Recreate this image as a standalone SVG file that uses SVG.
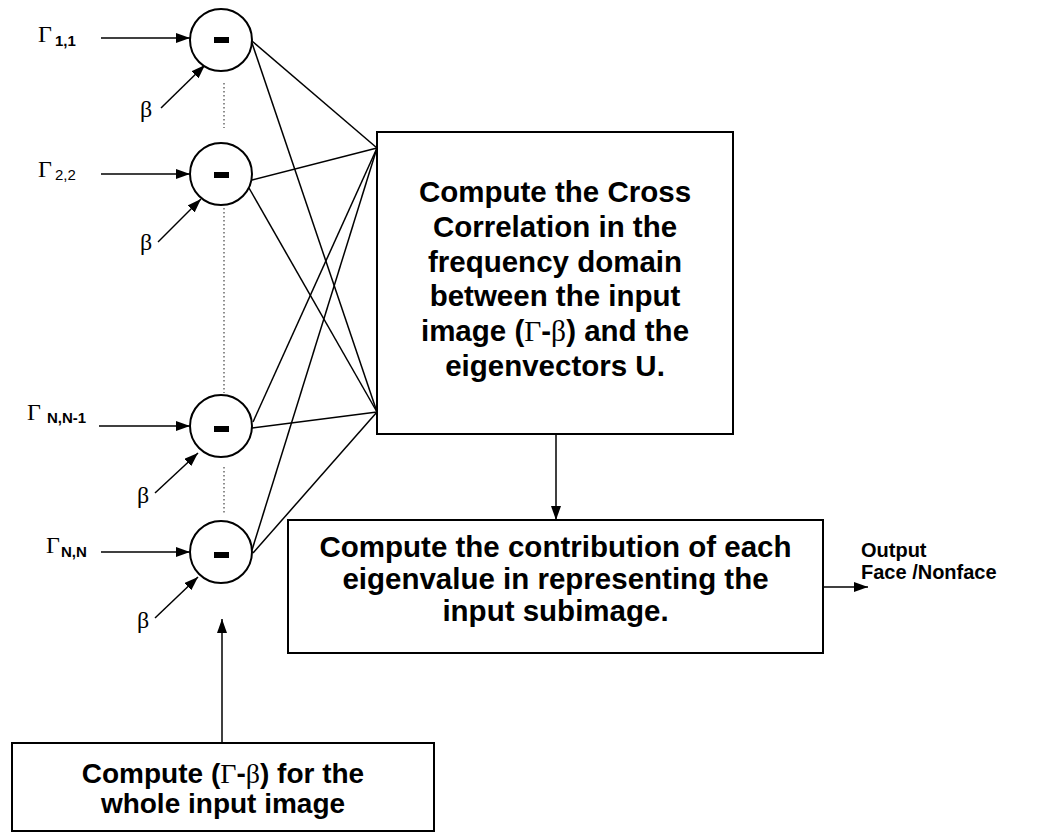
<svg xmlns="http://www.w3.org/2000/svg" width="1037" height="832" viewBox="0 0 1037 832">
<style>
.box{fill:#fff;stroke:#000;stroke-width:2}
.node{fill:#fff;stroke:#000;stroke-width:2}
.ln{stroke:#000;stroke-width:1.5;fill:none}
.dot{stroke:#444;stroke-width:1.2;stroke-dasharray:1.5 2.5;fill:none}
.t{font-family:"Liberation Sans",Arial,sans-serif;font-weight:bold;font-size:29.5px;text-anchor:middle;fill:#000}
.g{font-family:"Liberation Serif","Times New Roman",serif;font-weight:normal}
.gl{font-family:"Liberation Serif","Times New Roman",serif;font-size:24px;fill:#000}
.sb{font-family:"Liberation Sans",Arial,sans-serif;font-weight:bold;font-size:15px;fill:#000}
.sr{font-family:"Liberation Sans",Arial,sans-serif;font-size:15px;fill:#000}
.out{font-family:"Liberation Sans",Arial,sans-serif;font-weight:bold;font-size:20px;fill:#000}
</style>
<defs>
<marker id="ah" markerUnits="userSpaceOnUse" markerWidth="14" markerHeight="10" refX="14" refY="5" orient="auto">
<path d="M0,0 L14,5 L0,10 z" fill="#000"/>
</marker>
</defs>

<g id="connectors">
<line class="dot" x1="224" y1="83" x2="224" y2="128"/>
<line class="dot" x1="224" y1="208" x2="224" y2="393"/>
<line class="dot" x1="224" y1="467" x2="224" y2="513"/>
<line class="ln" x1="101" y1="38" x2="190" y2="38" marker-end="url(#ah)"/>
<line class="ln" x1="101" y1="174" x2="190" y2="174" marker-end="url(#ah)"/>
<line class="ln" x1="99" y1="426" x2="190" y2="426" marker-end="url(#ah)"/>
<line class="ln" x1="101" y1="552" x2="190" y2="552" marker-end="url(#ah)"/>
<line class="ln" x1="161" y1="108" x2="205" y2="65" marker-end="url(#ah)"/>
<line class="ln" x1="158" y1="242" x2="201" y2="199" marker-end="url(#ah)"/>
<line class="ln" x1="155" y1="493" x2="198" y2="453" marker-end="url(#ah)"/>
<line class="ln" x1="155" y1="618" x2="198" y2="577" marker-end="url(#ah)"/>
<line class="ln" x1="252" y1="41" x2="377" y2="148"/>
<line class="ln" x1="252" y1="43" x2="377" y2="412"/>
<line class="ln" x1="252" y1="180" x2="377" y2="148"/>
<line class="ln" x1="249" y1="188" x2="377" y2="412"/>
<line class="ln" x1="253" y1="422" x2="377" y2="148"/>
<line class="ln" x1="252" y1="428" x2="377" y2="412"/>
<line class="ln" x1="252" y1="550" x2="377" y2="148"/>
<line class="ln" x1="253" y1="553" x2="377" y2="412"/>
<line class="ln" x1="556" y1="434" x2="556" y2="520" marker-end="url(#ah)"/>
<line class="ln" x1="222" y1="743" x2="222" y2="619" marker-end="url(#ah)"/>
<line class="ln" x1="823" y1="587" x2="868" y2="587" marker-end="url(#ah)"/>
</g>

<g id="in1">
<text class="gl" x="38" y="42">Γ</text><text class="sb" x="55" y="46">1,1</text>
<text class="gl" x="140" y="117">β</text>
</g>
<g id="in2">
<text class="gl" x="38" y="177">Γ</text><text class="sr" x="55" y="180">2,2</text>
<text class="gl" x="140" y="250">β</text>
</g>
<g id="in3">
<text class="gl" x="27" y="420">Γ</text><text class="sb" x="47" y="423">N,N-1</text>
<text class="gl" x="137" y="503">β</text>
</g>
<g id="in4">
<text class="gl" x="46" y="553">Γ</text><text class="sb" x="61" y="557">N,N</text>
<text class="gl" x="137" y="628">β</text>
</g>

<g id="sub1"><circle class="node" cx="221" cy="40" r="31"/><rect x="214" y="37" width="15" height="6"/></g>
<g id="sub2"><circle class="node" cx="221" cy="174" r="31"/><rect x="214" y="172" width="15" height="6"/></g>
<g id="sub3"><circle class="node" cx="221" cy="426" r="31"/><rect x="214" y="426" width="15" height="6"/></g>
<g id="sub4"><circle class="node" cx="221" cy="552" r="31"/><rect x="214" y="552" width="15" height="6"/></g>

<g id="crosscorr">
<rect class="box" x="377" y="132" width="356" height="302"/>
<text class="t" x="555" y="202">Compute the Cross</text>
<text class="t" x="555" y="237">Correlation in the</text>
<text class="t" x="555" y="272">frequency domain</text>
<text class="t" x="555" y="306">between the input</text>
<text class="t" x="555" y="341">image (<tspan class="g">Γ</tspan>-<tspan class="g">β</tspan>) and the</text>
<text class="t" x="555" y="376">eigenvectors U.</text>
</g>

<g id="contribution">
<rect class="box" x="288" y="520" width="535" height="133"/>
<text class="t" x="555.5" y="557">Compute the contribution of each</text>
<text class="t" x="555.5" y="589">eigenvalue in representing the</text>
<text class="t" x="555.5" y="621">input subimage.</text>
</g>

<g id="output">
<text class="out" x="861" y="557">Output</text>
<text class="out" x="861" y="579">Face /Nonface</text>
</g>

<g id="compute">
<rect class="box" x="12" y="743" width="422" height="88"/>
<text class="t" x="223" y="783" style="font-size:28px">Compute (<tspan class="g">Γ</tspan>-<tspan class="g">β</tspan>) for the</text>
<text class="t" x="223" y="813" style="font-size:28px">whole input image</text>
</g>
</svg>
